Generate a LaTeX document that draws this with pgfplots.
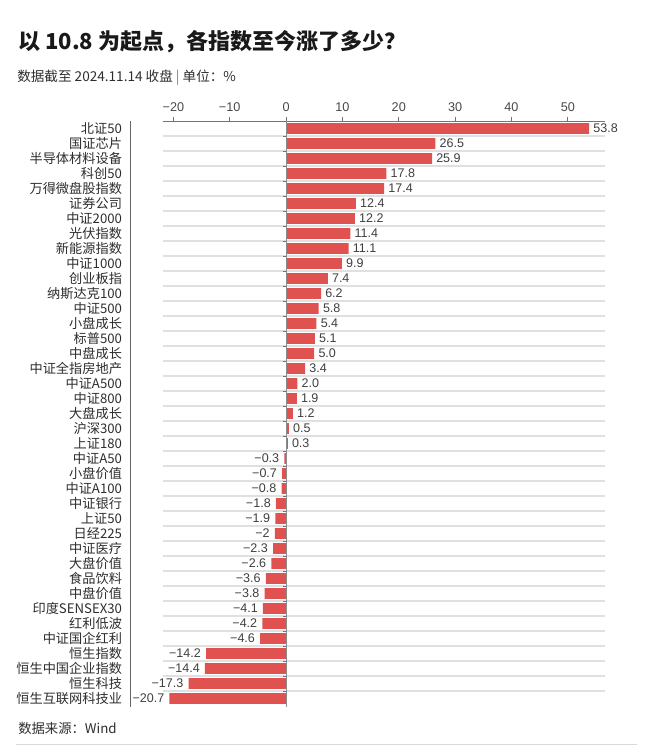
\documentclass[border=0pt]{standalone}
\usepackage{pgfplots}
\pgfplotsset{compat=1.18}
\usepackage{pgfplotstable}
\usepackage{fontspec}
\setmainfont{Liberation Sans}
\newfontfamily\cjk{Noto Sans CJK SC}
\definecolor{barred}{RGB}{224,82,80}
\definecolor{txt}{RGB}{45,45,45}
\definecolor{sepc}{RGB}{224,224,224}

\pgfplotstableread{
y x lab
38 53.8 53.8
37 26.5 26.5
36 25.9 25.9
35 17.8 17.8
34 17.4 17.4
33 12.4 12.4
32 12.2 12.2
31 11.4 11.4
30 11.1 11.1
29 9.9 9.9
28 7.4 7.4
27 6.2 6.2
26 5.8 5.8
25 5.4 5.4
24 5.1 5.1
23 5.0 5.0
22 3.4 3.4
21 2.0 2.0
20 1.9 1.9
19 1.2 1.2
18 0.5 0.5
17 0.3 0.3
}\pos

\pgfplotstableread{
y x lab
16 -0.3 −0.3
15 -0.7 −0.7
14 -0.8 −0.8
13 -1.8 −1.8
12 -1.9 −1.9
11 -2.0 −2
10 -2.3 −2.3
9 -2.6 −2.6
8 -3.6 −3.6
7 -3.8 −3.8
6 -4.1 −4.1
5 -4.2 −4.2
4 -4.6 −4.6
3 -14.2 −14.2
2 -14.4 −14.4
1 -17.3 −17.3
0 -20.7 −20.7
}\negs

\begin{document}
\begin{tikzpicture}
\path[use as bounding box] (0,0) rectangle (487.5pt,-560.25pt);
\node[anchor=west, inner sep=0pt, text=black!90] at (13.5pt,-31.5pt)
  {\cjk\bfseries\fontsize{16.5}{18}\selectfont 以 10.8 为起点，各指数至今涨了多少？};
\node[anchor=west, inner sep=0pt, text=txt] at (12.75pt,-58.5pt)
  {\cjk\fontsize{10.2}{12}\selectfont 数据截至 2024.11.14 收盘 \textcolor{gray}{|} 单位：\%};

\begin{axis}[
  at={(122pt,-529.5pt)}, anchor=south west,
  scale only axis, width=331.75pt, height=438.75pt,
  xmin=-21.9, xmax=56.6, ymin=-0.5, ymax=38.5,
  axis line style={draw=none},
  xtick={-20,-10,...,50},
  xticklabels={−20,−10,0,10,20,30,40,50},
  xtick pos=right, xticklabel pos=right,
  tick align=outside, major tick length=3pt,
  x tick style={draw=black!55, line width=0.5pt},
  xticklabel style={font=\fontsize{9.5}{10}\selectfont, text=black!72, anchor=base, inner sep=0pt, yshift=4pt},
  ytick={0,...,38},
  yticklabels={恒生互联网科技业,恒生科技,恒生中国企业指数,恒生指数,中证国企红利,红利低波,印度SENSEX30,中盘价值,食品饮料,大盘价值,中证医疗,日经225,上证50,中证银行,中证A100,小盘价值,中证A50,上证180,沪深300,大盘成长,中证800,中证A500,中证全指房地产,中盘成长,标普500,小盘成长,中证500,纳斯达克100,创业板指,中证1000,新能源指数,光伏指数,中证2000,证券公司,万得微盘股指数,科创50,半导体材料设备,国证芯片,北证50},
  y tick style={draw=none},
  yticklabel style={font=\cjk\fontsize{9.9}{10}\selectfont, text=txt, inner sep=0pt, anchor=east, xshift=-27.3pt},
  minor ytick={0.5,1.5,...,37.5},
  yminorgrids, minor grid style={sepc, line width=1.1pt},
  minor y tick style={draw=none},
  clip=false,
  xbar, bar width=0.72,
]
\addplot[fill=barred, draw=none, bar shift=0pt,
  nodes near coords, point meta=explicit symbolic,
  every node near coord/.append style={anchor=west, xshift=1.5pt, fill=white, inner xsep=1.5pt, inner ysep=0.5pt,
    font=\fontsize{9.4}{10}\selectfont, text=black!75}]
  table[x=x, y=y, meta=lab]{\pos};
\addplot[fill=barred, draw=none, bar shift=0pt,
  nodes near coords, point meta=explicit symbolic,
  every node near coord/.append style={anchor=east, xshift=-2.2pt, fill=white, inner xsep=1.5pt, inner ysep=0.5pt,
    font=\fontsize{9.4}{10}\selectfont, text=black!75}]
  table[x=x, y=y, meta=lab]{\negs};
\draw[black!55, line width=0.5pt] (axis cs:-21.9,38.5) -- (axis cs:56.6,38.5);
\draw[black!45, line width=0.4pt] (axis cs:0,38.5) -- (axis cs:0,-0.55);
\draw[black!60, line width=0.5pt] (axis cs:-27.7,38.5) -- (axis cs:-27.7,-0.55);
\pgfplotsinvokeforeach{0.5,1.5,...,37.5}{
  \draw[black!55, line width=0.4pt] (axis cs:0,#1) -- (axis cs:-0.55,#1);
}
\end{axis}

\node[anchor=west, inner sep=0pt, text=txt] at (13.5pt,-546pt)
  {\cjk\fontsize{10}{12}\selectfont 数据来源：Wind};
\draw[black!15, line width=0.6pt] (12pt,-558.5pt) -- (478pt,-558.5pt);
\end{tikzpicture}
\end{document}
